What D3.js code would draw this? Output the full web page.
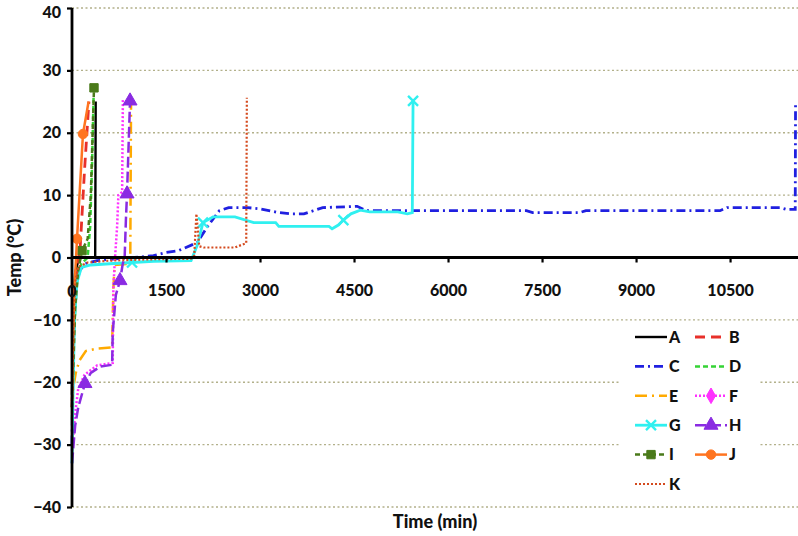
<!DOCTYPE html>
<html>
<head>
<meta charset="utf-8">
<script src="https://cdn.jsdelivr.net/npm/d3@7"></script>
<style>
  body { margin: 0; background: #fff; }
  text { font-family: Lato, "Open Sans", sans-serif; font-weight: 900; fill: #111; }
</style>
</head>
<body>
<svg id="chart" width="798" height="536"></svg>
<script>
// 축 눈금
const timeTicks = [0, 1500, 3000, 4500, 6000, 7500, 9000, 10500];
const tempTicks = [-40, -30, -20, -10, 0, 10, 20, 30, 40];

// 시리즈 값 [time(min), temp(°C)]
const seriesA = [[0,-22],[20,-8],[50,-2.5],[100,-0.5],[150,0],[370,0],[378,25]];
const seriesB = [[0,-24],[30,-10],[60,-3],[100,-0.5],[130,1.5],[200,14],[270,25]];
const seriesC = [[0,-30],[20,-15],[50,-6],[100,-2.5],[200,-1],[400,-0.5],[700,-0.2],[1000,0],[1300,0.3],[1500,0.8],[1700,1.1],[2000,2.4],[2150,4.8],[2350,7.5],[2500,8.0],[2800,8.0],[3000,7.8],[3300,7.2],[3500,7.0],[3700,7.0],[3850,7.5],[4000,8.0],[4550,8.2],[4700,7.5],[7250,7.5],[7350,7.2],[8100,7.2],[8200,7.5],[10340,7.5],[10450,8.0],[11300,8.0],[11400,7.7],[11540,7.7],[11545,25]];
const seriesD = [[0,-26],[30,-12],[80,-4],[150,-1],[250,0],[290,5],[320,15],[345,26]];
const seriesE = [[0,-24],[20,-21],[60,-18.5],[120,-16.5],[220,-15],[400,-14.6],[640,-14.4],[660,-5],[680,-1.2],[900,-1],[930,0],[942,24.8]];
const seriesF = [[0,-31],[50,-25],[100,-21],[200,-18.8],[400,-17.3],[650,-16.9],[660,-5],[680,-1],[720,5],[740,10],[800,10.5],[812,25.5]];
const seriesG = [[0,-33],[20,-20],[40,-10],[80,-4],[150,-1.6],[300,-1.2],[600,-1],[958,-0.8],[1300,-0.6],[1900,-0.5],[2000,2],[2090,5.6],[2250,6.5],[2600,6.5],[2900,5.6],[3250,5.6],[3300,5.0],[4100,5.0],[4150,4.6],[4250,5.2],[4330,6.0],[4450,7.0],[4600,7.6],[4750,7.3],[5200,7.3],[5350,7.0],[5430,7.2],[5442,25.1]];
const seriesH = [[0,-33],[50,-27],[100,-24],[207,-20.2],[300,-18.5],[450,-17.5],[640,-17.2],[650,-12],[700,-6],[766,-3.7],[810,-1],[840,0],[860,6],[878,10.2],[926,25.1]];
const seriesI = [[0,-24],[50,-8],[100,-2],[160,1.1],[250,3],[300,10],[351,27.2]];
const seriesJ = [[0,-23],[30,-6],[60,-1],[80,3],[175,19.8],[265,25]];
const seriesK = [[0,-25],[20,-12],[50,-4],[100,-1.5],[250,-0.8],[600,-0.5],[1200,-0.3],[1900,-0.2],[1950,0.3],[1985,7.0],[2030,1.8],[2100,1.6],[2600,1.6],[2700,2.0],[2780,2.3],[2790,25.6]];

// 마커 위치
const markersG = [[958,-0.8],[2090,5.6],[4330,6.0],[5442,25.1]];
const markersH = [[207,-20.2],[766,-3.7],[878,10.2],[926,25.1]];
const markersI = [[160,1.1],[351,27.2]];
const markersJ = [[80,3],[175,19.8]];

const seriesNames = ['A','B','C','D','E','F','G','H','I','J','K'];
const seriesData = [seriesA, seriesB, seriesC, seriesD, seriesE, seriesF, seriesG, seriesH, seriesI, seriesJ, seriesK];

const styles = {                                               // 선 스타일
  A: { color: '#000000', dash: null,         width: 2.4 },
  B: { color: '#e8302a', dash: '10,6',       width: 2.8 },
  C: { color: '#2020e0', dash: '9,4,2,4',    width: 2.8 },
  D: { color: '#35d335', dash: '5,3',        width: 2.5 },
  E: { color: '#ffaa00', dash: '12,5,2,5',   width: 2.5 },
  F: { color: '#ff30ff', dash: '2,2',        width: 2.5, marker: 'diamond' },
  G: { color: '#30f0f0', dash: null,         width: 2.8, marker: 'x' },
  H: { color: '#8a2be2', dash: '11,4',       width: 2.5, marker: 'triangle' },
  I: { color: '#4a7a1a', dash: '5,3',        width: 2.5, marker: 'square' },
  J: { color: '#ff7420', dash: null,         width: 2.5, marker: 'circle' },
  K: { color: '#d44a1e', dash: '2,2',        width: 2.2 }
};
const markerData = { G: markersG, H: markersH, I: markersI, J: markersJ };

const svg = d3.select('#chart');
const x = d3.scaleLinear().domain([0, 11600]).range([72, 799]);
const y = d3.scaleLinear().domain([-40, 40]).range([507, 8]);

// 격자선
svg.append('g').selectAll('line')
  .data(tempTicks.filter(d => d !== 0))
  .enter().append('line')
  .attr('x1', x(0)).attr('x2', 798)
  .attr('y1', d => y(d)).attr('y2', d => y(d))
  .attr('stroke', '#b2b08a').attr('stroke-width', 1.3)
  .attr('stroke-dasharray', '2,2.5');

function markerPath(type) {                                    // 마커 모양
  if (type === 'x') return 'M-5,-5L5,5M-5,5L5,-5';
  const t = { diamond: d3.symbolDiamond, triangle: d3.symbolTriangle, square: d3.symbolSquare, circle: d3.symbolCircle }[type];
  return d3.symbol().type(t).size(type === 'triangle' ? 85 : 70)();
}

function drawMarker(g, type, color) {
  g.append('path')
    .attr('d', markerPath(type))
    .attr('fill', type === 'x' ? 'none' : color)
    .attr('stroke', color)
    .attr('stroke-width', type === 'x' ? 2.4 : 1);
}

const line = d3.line().x(d => x(d[0])).y(d => y(d[1]));

// 데이터 선
const plot = svg.append('g');
seriesNames.forEach((name, i) => {
  const s = styles[name];
  plot.append('path')
    .datum(seriesData[i])
    .attr('d', line)
    .attr('fill', 'none')
    .attr('stroke', s.color)
    .attr('stroke-width', s.width)
    .attr('stroke-dasharray', s.dash);
  (markerData[name] || []).forEach(p => {
    const g = plot.append('g').attr('transform', `translate(${x(p[0])},${y(p[1])})`);
    drawMarker(g, s.marker, s.color);
  });
});

// 축
const yAxis = svg.append('g').attr('transform', `translate(${x(0)},0)`)
  .call(d3.axisLeft(y).tickValues(tempTicks).tickSize(5).tickPadding(6).tickFormat(d3.format('d')));
const xAxis = svg.append('g').attr('transform', `translate(0,${y(0)})`)
  .call(d3.axisBottom(x).tickValues(timeTicks.slice(1)).tickSize(5).tickPadding(22).tickFormat(d3.format('d')));
[yAxis, xAxis].forEach(a => {
  a.select('.domain').remove();
  a.selectAll('.tick line').attr('stroke', '#000').attr('stroke-width', 2.2);
  a.selectAll('.tick text').style('font-size', '16px').style('font-weight', '900').attr('fill', '#111');
});
yAxis.selectAll('.tick text').filter(d => d === 40).attr('dy', '0.6em');   // 위쪽 잘림 방지
svg.append('line').attr('x1', x(0)).attr('x2', x(0)).attr('y1', y(40)).attr('y2', y(-40))
  .attr('stroke', '#000').attr('stroke-width', 2.8);
svg.append('line').attr('x1', x(0)).attr('x2', 798).attr('y1', y(0)).attr('y2', y(0))
  .attr('stroke', '#000').attr('stroke-width', 2.8);
svg.append('text').attr('x', x(0)).attr('y', y(0) + 39).attr('text-anchor', 'middle')
  .style('font-size', '16px').text('0');                       // x축 0 라벨

// 축 제목
svg.append('text').attr('transform', `translate(21,${y(0)}) rotate(-90)`)
  .attr('text-anchor', 'middle').style('font-size', '18px').text('Temp (°C)');
svg.append('text').attr('x', 435).attr('y', 528)
  .attr('text-anchor', 'middle').style('font-size', '18px').text('Time (min)');

// 범례
const legend = svg.append('g');
legend.append('rect').attr('x', 620).attr('y', 325).attr('width', 138).attr('height', 172).attr('fill', '#fff');
seriesNames.forEach((name, i) => {
  const s = styles[name];
  const lx = 635 + (i % 2) * 60;
  const ly = 337 + Math.floor(i / 2) * 29.4;
  legend.append('line')
    .attr('x1', lx).attr('x2', lx + 32).attr('y1', ly).attr('y2', ly)
    .attr('stroke', s.color).attr('stroke-width', s.width)
    .attr('stroke-dasharray', s.dash);
  if (s.marker) drawMarker(legend.append('g').attr('transform', `translate(${lx + 16},${ly})`), s.marker, s.color);
  legend.append('text').attr('x', lx + 34).attr('y', ly).attr('dy', '0.36em')
    .style('font-size', '16px').text(name);
});
</script>
</body>
</html>
